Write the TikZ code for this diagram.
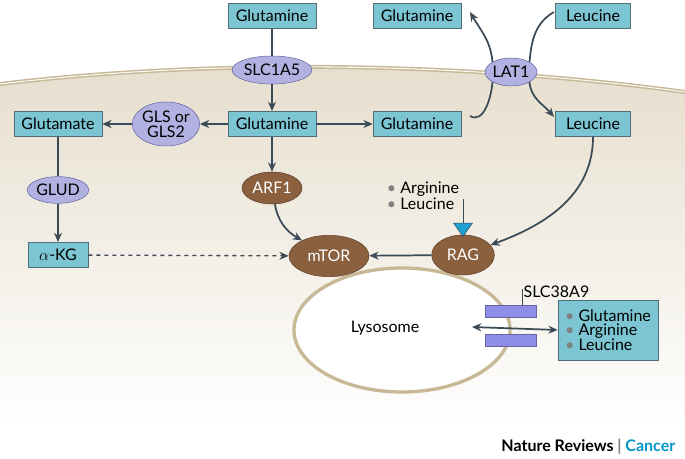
\documentclass[tikz,border=0pt]{standalone}
\usepackage{fontspec}
\setmainfont{Lato}
\usetikzlibrary{arrows.meta, positioning, shapes.geometric}
\definecolor{boxcyan}{RGB}{124,197,211}
\definecolor{boxline}{RGB}{80,110,120}
\definecolor{lav}{RGB}{178,178,226}
\definecolor{lavline}{RGB}{100,100,160}
\definecolor{brownn}{RGB}{139,96,62}
\definecolor{arrowc}{RGB}{58,74,86}
\definecolor{beige}{RGB}{230,222,205}
\definecolor{membr}{RGB}{200,184,150}
\definecolor{natblue}{RGB}{0,150,200}
\newcommand{\fs}{\fontsize{12}{13}\selectfont}
\tikzset{
  mol/.style={draw=boxline, fill=boxcyan, minimum width=66pt, minimum height=19pt, inner sep=1pt, font=\fs},
  prot/.style={ellipse, draw=lavline, fill=lav, inner sep=0pt, font=\fs},
  eff/.style={ellipse, draw=brownn!70!black, fill=brownn, text=white, inner sep=0pt, font=\fs},
  flow/.style={-{Stealth[length=7pt,width=6pt]}, line width=1.3pt, arrowc},
  link/.style={line width=1.3pt, arrowc}
}
\begin{document}
\begin{tikzpicture}[x=0.75pt, y=-0.75pt]
\useasboundingbox (0,0) rectangle (685,459);
% Cytoplasm and membrane
\shade[top color=beige, bottom color=white] (0,84) .. controls (200,60) and (450,60) .. (685,92) -- (685,430) -- (0,430) -- cycle;
\draw[membr, line width=3pt] (0,84) .. controls (200,60) and (450,60) .. (685,92);
\draw[white!90!membr, line width=0.8pt] (0,84) .. controls (200,60) and (450,60) .. (685,92);

% Lysosome
\draw[membr, line width=2.5pt, fill=white] (402,330) ellipse [x radius=108, y radius=62];
\node (lyso) at (385,328) {\fs Lysosome};

% Outside
\node[mol] (glnout) at (272,16) {Glutamine};
\node[mol] (glnexp) at (417,16) {Glutamine};
\node[mol, minimum width=56pt] (leuout) at (593,16) {Leucine};
\node[prot, minimum width=56pt, minimum height=21pt] (slc1a5) at (272,70) {SLC1A5};
\node[prot, minimum width=38pt, minimum height=21pt] (lat1) at (511,72) {LAT1};

% Inside
\node[mol] (glu) at (58,124) {Glutamate};
\node[prot, minimum width=47pt, minimum height=33pt, align=center, font=\fs\linespread{0.85}\selectfont] (gls) at (166,124) {GLS or\\GLS2};
\node[mol] (glnin) at (272,124) {Glutamine};
\node[mol] (glnin2) at (417,124) {Glutamine};
\node[mol, minimum width=56pt] (leuin) at (593,124) {Leucine};
\node[prot, minimum width=35pt, minimum height=20pt] (glud) at (58,190) {GLUD};
\node[mol, minimum width=45pt] (akg) at (58,255) {$\alpha$-KG};
\node[eff, minimum width=45pt, minimum height=24pt] (arf1) at (272,188) {ARF1};
\node[eff, minimum width=60pt, minimum height=31pt] (mtor) at (329,256) {mTOR};
\node[eff, minimum width=47pt, minimum height=30pt] (rag) at (463,255) {RAG};
\node[align=left, font=\fs\linespread{0.9}\selectfont, inner sep=0pt] (aa) at (423,196) {\textcolor{gray}{\textbullet} Arginine\\\textcolor{gray}{\textbullet} Leucine};
\node[isosceles triangle, shape border rotate=-90, isosceles triangle apex angle=70, draw=arrowc, fill=cyan!70!teal, minimum size=10pt, inner sep=0pt, anchor=apex] (sens) at (463,237) {};
\draw[arrowc, line width=0.6pt] (sens.north) -- ++(0,-24);

% SLC38A9
\fill[lav!80!blue, draw=lavline] (485,305) rectangle (536,317);
\fill[lav!80!blue, draw=lavline] (485,334) rectangle (536,346);
\coordinate (slctop) at (522,305);
\node[font=\fs, anchor=west, inner sep=1pt] (slclab) at (522,292) {SLC38A9};
\draw[arrowc, line width=0.6pt] (slctop) -- ++(0,-16);
\node[mol, minimum width=75pt, minimum height=45pt, align=left, font=\fs\linespread{0.85}\selectfont] (aabox) at (608,330) {\textcolor{gray}{\textbullet} Glutamine\\\textcolor{gray}{\textbullet} Arginine\\\textcolor{gray}{\textbullet} Leucine};
\coordinate (lysoport) at (472,327);
\draw[{Stealth[length=7pt,width=6pt]}-{Stealth[length=7pt,width=6pt]}, line width=1.3pt, arrowc] (lysoport) -- (aabox.west);

% Connectors
\draw[link] (glnout) -- (slc1a5);
\draw[flow] (slc1a5) -- (glnin);
\draw[flow] (glnin) -- (gls);
\draw[flow] (gls) -- (glu);
\draw[flow] (glnin) -- (glnin2);
\draw[link] (glu) -- (glud);
\draw[flow] (glud) -- (akg);
\draw[flow] (glnin) -- (arf1);
\draw[flow] (arf1) to[out=-80, in=150] (mtor);
\draw[flow, dashed, line width=1pt] (akg) -- (mtor);
\draw[flow] (rag) -- (mtor);
\draw[flow] (leuin) to[out=-90, in=20] (rag);
\coordinate (glnexit) at (470,12);
\coordinate (leuent) at (554,117);
\draw[link] (470,116) to[out=-30, in=-95] (lat1.south west);
\draw[flow] (lat1.north west) to[out=95, in=-60] (glnexit);
\draw[link] (554,12) to[out=210, in=85] (lat1.north east);
\draw[flow] (lat1.south east) to[out=-85, in=130] (leuent);

% Footer
\node[anchor=east, font=\fs\bfseries] (foot) at (680,447) {Nature Reviews \textcolor{gray}{|} \textcolor{natblue}{Cancer}};
\end{tikzpicture}
\end{document}
